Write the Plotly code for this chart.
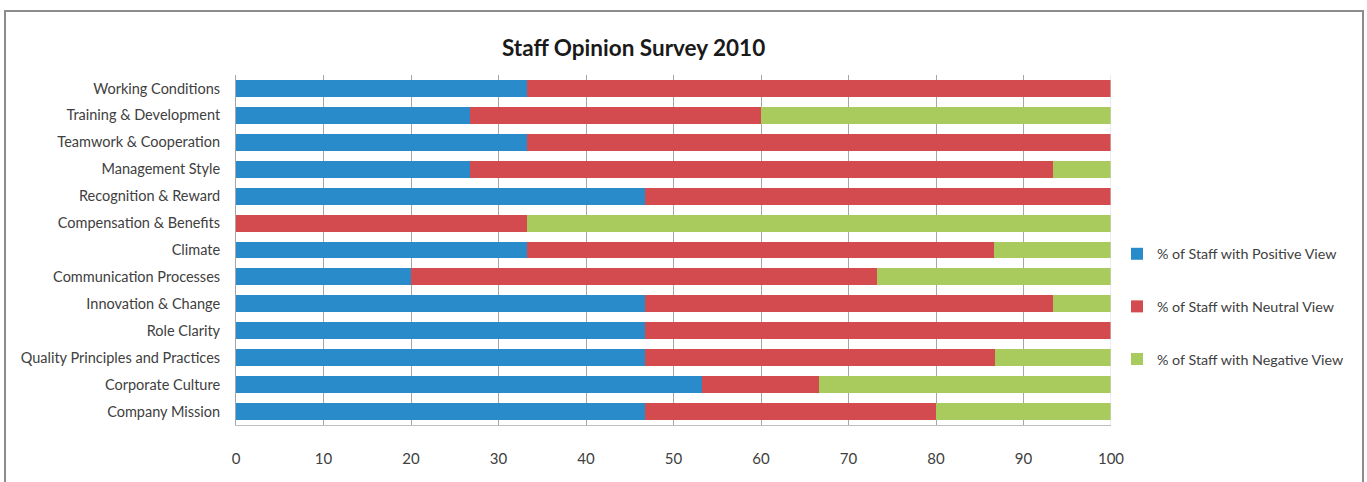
import plotly.graph_objects as go

categories = [
    "Working Conditions",
    "Training & Development",
    "Teamwork & Cooperation",
    "Management Style",
    "Recognition & Reward",
    "Compensation & Benefits",
    "Climate",
    "Communication Processes",
    "Innovation & Change",
    "Role Clarity",
    "Quality Principles and Practices",
    "Corporate Culture",
    "Company Mission",
]
positive = [33.3, 26.7, 33.3, 26.7, 46.7, 0.0, 33.3, 20.0, 46.7, 46.7, 46.7, 53.3, 46.7]
neutral = [66.7, 33.3, 66.7, 66.7, 53.3, 33.3, 53.3, 53.3, 46.7, 53.3, 40.0, 13.3, 33.3]
negative = [0.0, 40.0, 0.0, 6.6, 0.0, 66.7, 13.4, 26.7, 6.6, 0.0, 13.3, 33.4, 20.0]
series_names = [
    "% of Staff with Positive View",
    "% of Staff with Neutral View",
    "% of Staff with Negative View",
]
x_ticks = list(range(0, 101, 10))

colors = ["#2A8BCA", "#D34B4E", "#A9CA5C"]
FONT = "Lato, 'Open Sans', sans-serif"

fig = go.Figure()
for name, vals, col in zip(series_names, [positive, neutral, negative], colors):
    fig.add_trace(go.Bar(
        y=categories, x=vals, name=name, orientation="h",
        marker=dict(color=col, line=dict(width=0)),
        legendgroup=name,
    ))

W, H = 1367, 482
# plot area spans x 236..1111, y 75..425 in pixels
L, R, T, B = 236, 0, 75, H - 425
pw, ph = W - L - R, H - T - B
PLOT_RIGHT = 1111

def px(x):
    return (x - L) / pw

def py(y):
    return (H - B - y) / ph

fig.update_layout(
    width=W, height=H,
    margin=dict(l=L, r=R, t=T, b=B, pad=0, autoexpand=False),
    barmode="stack", bargap=0.37,
    plot_bgcolor="white", paper_bgcolor="white",
    font=dict(family=FONT, size=14, color="#404040"),
    showlegend=True,
    legend=dict(
        xref="container", yref="container",
        x=1117 / W, y=1 - 238 / H, xanchor="left", yanchor="top",
        traceorder="grouped", tracegroupgap=31,
        font=dict(size=14.3, color="#404040"),
        itemwidth=30, bgcolor="rgba(0,0,0,0)",
    ),
    xaxis=dict(
        domain=[0, px(PLOT_RIGHT)],
        range=[0, 100], tickvals=x_ticks, ticktext=[str(t) for t in x_ticks],
        showgrid=True, gridcolor="#A6A6A6", gridwidth=1,
        showline=True, linecolor="#BFBFBF", linewidth=1, mirror=False,
        zeroline=False, ticks="", ticklabelstandoff=20,
        tickfont=dict(size=15, color="#404040"),
    ),
    yaxis=dict(
        categoryorder="array", categoryarray=categories[::-1],
        showline=True, linecolor="#A6A6A6", linewidth=1,
        ticks="", ticklabelstandoff=12, showgrid=False,
        tickfont=dict(size=14.5, color="#404040"),
    ),
    annotations=[dict(
        text="<b>Staff Opinion Survey 2010</b>", x=px(633), y=py(48),
        xref="paper", yref="paper", xanchor="center", yanchor="middle",
        showarrow=False, font=dict(family=FONT, size=22.5, color="#1A1A1A"),
    )],
    shapes=[
        dict(type="rect", xref="paper", yref="paper",
             x0=px(5), x1=px(1363), y0=py(500), y1=py(11),
             line=dict(color="#8C8C8C", width=2), fillcolor="rgba(0,0,0,0)",
             layer="below"),
        dict(type="line", xref="x", yref="paper", x0=100, x1=100, y0=0, y1=1,
             line=dict(color="#D9D9D9", width=1)),
    ],
)

fig.write_html("out.html")
